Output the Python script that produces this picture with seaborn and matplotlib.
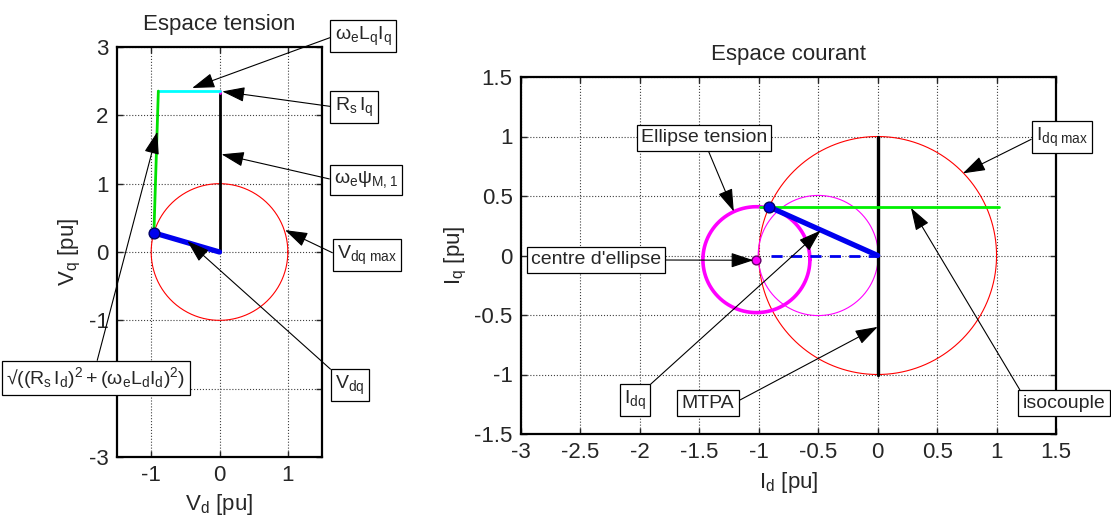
import numpy as np
import matplotlib
matplotlib.use('Agg')
import matplotlib.pyplot as plt
import seaborn as sns

sns.set_style('ticks')
plt.rcParams.update({
    'font.family': ['Liberation Sans', 'DejaVu Sans'],
    'mathtext.fontset': 'custom',
    'mathtext.rm': 'Liberation Sans',
    'mathtext.it': 'Liberation Sans',
    'mathtext.bf': 'Liberation Sans:bold',
    'axes.unicode_minus': False,
})

# ---------------- data : Espace tension ----------------
vmax_center = (0.0, 0.0)
vmax_radius = 1.0
vdq_d = [0.0, -0.96]
vdq_q = [0.0, 0.28]
psi_d = [0.0, 0.0]
psi_q = [0.0, 2.33]
rsiq_d = [0.0, 0.0]
rsiq_q = [2.33, 2.355]
lqiq_d = [0.0, -0.895]
lqiq_q = [2.355, 2.355]
ldid_d = [-0.895, -0.96]
ldid_q = [2.355, 0.28]
t_xticks = [-1, 0, 1]
t_xticklabels = ['-1', '0', '1']
t_yticks = [-3, -2, -1, 0, 1, 2, 3]
t_yticklabels = ['-3', '', '-1', '0', '1', '2', '3']   # "-2" is hidden behind a note box

# ---------------- data : Espace courant ----------------
imax_center = (0.0, 0.0)
imax_radius = 1.0
small_circle_center = (-0.5, 0.0)
small_circle_radius = 0.505
ellipse_center = (-1.02, -0.035)
ellipse_axes = (0.45, 0.445)
idq_d = [0.0, -0.91]
idq_q = [0.0, 0.407]
id_d = [-0.9, 0.0]
id_q = [0.0, 0.0]
iso_d = [-0.99, 1.02]
iso_q = [0.407, 0.407]
mtpa_d = [0.0, 0.0]
mtpa_q = [-1.0, 1.0]
c_xticks = [-3, -2.5, -2, -1.5, -1, -0.5, 0, 0.5, 1, 1.5]
c_xticklabels = ['-3', '-2.5', '-2', '-1.5', '-1', '-0.5', '0', '0.5', '1', '1.5']
c_yticks = [-1.5, -1, -0.5, 0, 0.5, 1, 1.5]
c_yticklabels = ['-1.5', '-1', '-0.5', '0', '0.5', '1', '1.5']


def ellipse(center, rx, ry, n=300):
    t = np.linspace(0, 2 * np.pi, n)
    return center[0] + rx * np.cos(t), center[1] + ry * np.sin(t)


def line(ax, x, y, **kw):
    sns.lineplot(x=list(x), y=list(y), sort=False, estimator=None, ax=ax, **kw)


fig = plt.figure(figsize=(11.11, 5.2), dpi=100)
ax1 = fig.add_axes([117 / 1111, (520 - 457) / 520, 205 / 1111, 410 / 520])
ax2 = fig.add_axes([521 / 1111, (520 - 434) / 520, 535 / 1111, 357 / 520])


def style(ax, xl, yl, xt, xtl, yt, ytl):
    ax.set_xlim(*xl)
    ax.set_ylim(*yl)
    ax.set_xticks(xt)
    ax.set_xticklabels(xtl)
    ax.set_yticks(yt)
    ax.set_yticklabels(ytl)
    ax.grid(True, ls=':', color='0.25', lw=0.8)
    ax.tick_params(direction='in', top=True, right=True, length=4, width=1,
                   labelsize=16, pad=6)
    for s in ax.spines.values():
        s.set_linewidth(1.6)
        s.set_color('k')
        s.set_zorder(20)


# ---- Espace tension ----
cx, cy = ellipse(vmax_center, vmax_radius, vmax_radius)
line(ax1, cx, cy, color='red', lw=0.8)
line(ax1, psi_d, psi_q, color='black', lw=2)
line(ax1, rsiq_d, rsiq_q, color='magenta', lw=2)
line(ax1, lqiq_d, lqiq_q, color='cyan', lw=2)
line(ax1, ldid_d, ldid_q, color='#00e000', lw=2)
line(ax1, vdq_d, vdq_q, color='#0000ee', lw=3.8)
sns.scatterplot(x=[vdq_d[1]], y=[vdq_q[1]], s=60, color='#0000ee',
                edgecolor='#000066', linewidth=1, ax=ax1, zorder=5)
style(ax1, (-1.5, 1.5), (-3, 3), t_xticks, t_xticklabels, t_yticks, t_yticklabels)
ax1.set_title('Espace tension', fontsize=16, pad=12)
ax1.set_xlabel(r'$\mathregular{V_d}$ [pu]', fontsize=16, labelpad=4)
ax1.set_ylabel(r'$\mathregular{V_q}$ [pu]', fontsize=16, labelpad=4)

# ---- Espace courant ----
cx, cy = ellipse(imax_center, imax_radius, imax_radius)
line(ax2, cx, cy, color='red', lw=0.8)
cx, cy = ellipse(small_circle_center, small_circle_radius, small_circle_radius)
line(ax2, cx, cy, color='magenta', lw=0.8)
cx, cy = ellipse(ellipse_center, ellipse_axes[0], ellipse_axes[1])
line(ax2, cx, cy, color='magenta', lw=2.6)
line(ax2, mtpa_d, mtpa_q, color='black', lw=2.4)
line(ax2, iso_d, iso_q, color='#00f000', lw=2)
line(ax2, id_d, id_q, color='#0000ee', lw=2, linestyle=(0, (4, 3)))
line(ax2, idq_d, idq_q, color='#0000ee', lw=3.8)
sns.scatterplot(x=[idq_d[1]], y=[idq_q[1]], s=60, color='#0000ee',
                edgecolor='#000066', linewidth=1, ax=ax2, zorder=5)
sns.scatterplot(x=[ellipse_center[0]], y=[ellipse_center[1]], s=40, color='magenta',
                edgecolor='#660066', linewidth=1, ax=ax2, zorder=5)
style(ax2, (-3, 1.5), (-1.5, 1.5), c_xticks, c_xticklabels, c_yticks, c_yticklabels)
ax2.set_title('Espace courant', fontsize=16, pad=12)
ax2.set_xlabel(r'$\mathregular{I_d}$ [pu]', fontsize=16, labelpad=5)
ax2.set_ylabel(r'$\mathregular{I_q}$ [pu]', fontsize=16, labelpad=4)


def note(ax, text, tip, center, relpos):
    ax.annotate(text, xy=tip, xycoords='data',
                xytext=(center[0], 520 - center[1]), textcoords='figure pixels',
                ha='center', va='center', fontsize=14,
                bbox=dict(boxstyle='square,pad=0.22', fc='white', ec='black', lw=0.9),
                arrowprops=dict(arrowstyle='-|>,head_length=1.0,head_width=0.33',
                                color='black', lw=0.8, shrinkA=0, shrinkB=0,
                                relpos=relpos),
                annotation_clip=False, zorder=30)


note(ax1, r'$\mathregular{\omega_e L_q I_q}$', (-0.40, 2.40), (363, 36), (0, 0.5))
note(ax1, r'$\mathregular{R_s\,I_q}$', (0.04, 2.35), (354, 107), (0, 0.5))
note(ax1, r'$\mathregular{\omega_e\psi_{M,1}}$', (0.03, 1.43), (366, 180), (0, 0.5))
note(ax1, r'$\mathregular{V_{dq\ max}}$', (0.96, 0.32), (367, 255), (0, 0.5))
note(ax1, r'$\mathregular{V_{dq}}$', (-0.47, 0.16), (350, 385), (0, 1))
note(ax1, r'$\mathregular{√((R_s\,I_d)^2+(\omega_e L_d I_d)^2)}$', (-0.91, 1.76),
     (96, 378), (0.5, 1))

note(ax2, 'Ellipse tension', (-1.21, 0.37), (704, 138), (0.52, 0))
note(ax2, "centre d'ellipse", (-1.045, -0.04), (596, 260), (1, 0.5))
note(ax2, r'$\mathregular{I_{dq}}$', (-0.48, 0.21), (635, 400), (1, 1))
note(ax2, 'MTPA', (0.0, -0.60), (708, 403), (1, 0.5))
note(ax2, r'$\mathregular{I_{dq\ max}}$', (0.716, 0.69), (1062, 137), (0, 0.5))
note(ax2, 'isocouple', (0.28, 0.40), (1064, 403), (0, 1))

fig.savefig('out.png', dpi=100)
